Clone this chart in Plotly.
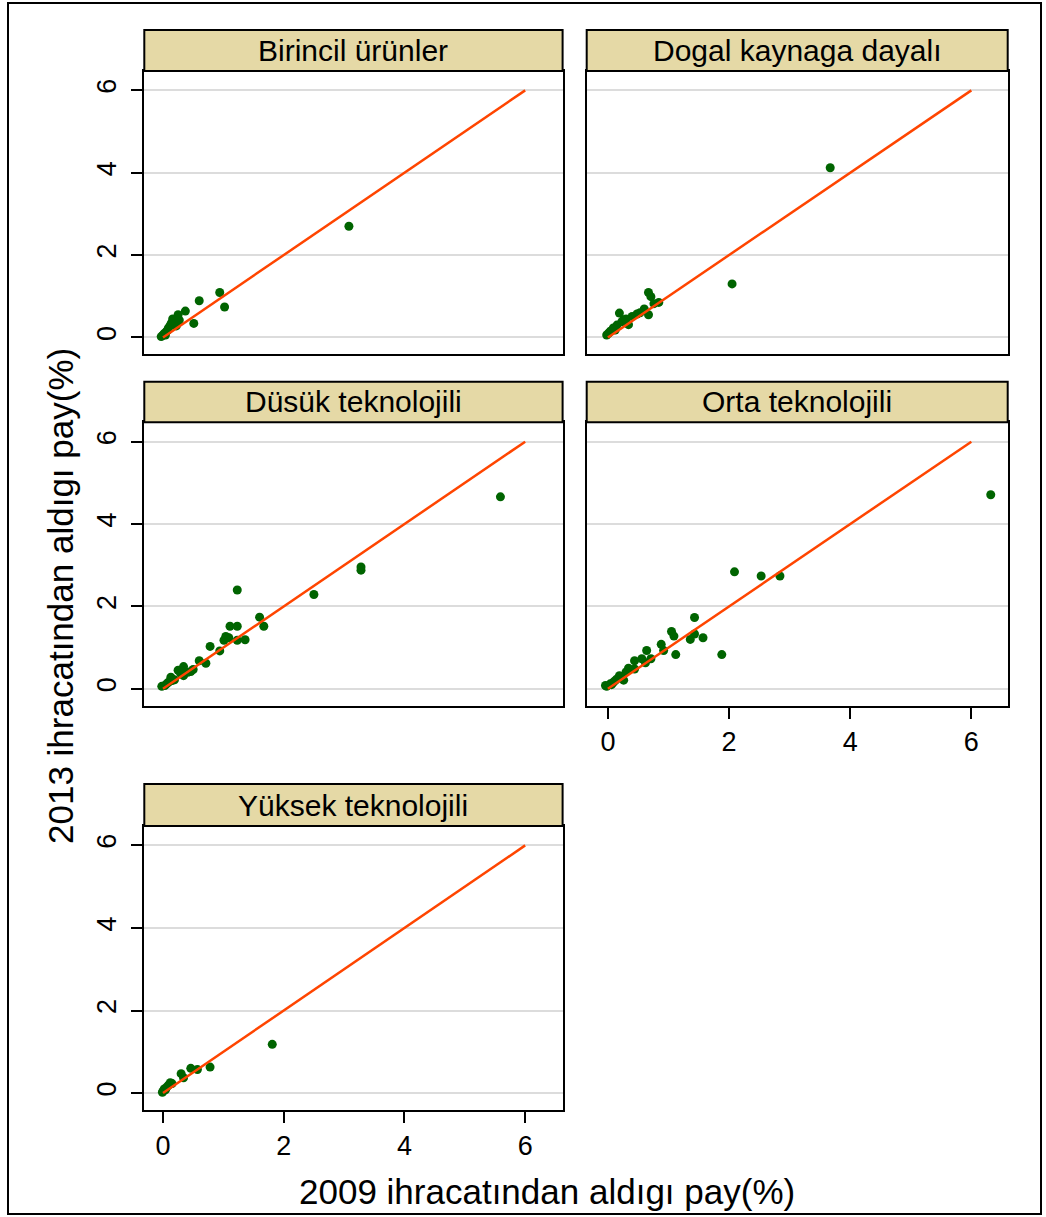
import plotly.graph_objects as go

# ---------------- data ----------------
panel_titles = ["Birincil ürünler", "Dogal kaynaga dayalı", "Düsük teknolojili",
                "Orta teknolojili", "Yüksek teknolojili"]

birincil_x = [3.08, 0.94, 0.60, 1.02, 0.51, 0.37, 0.25, 0.16, 0.14, 0.19, 0.09, 0.06, 0.03,
              0.00, -0.03, 0.12, 0.22, 0.08, 0.04, 0.01, 0.27]
birincil_y = [2.70, 1.09, 0.89, 0.74, 0.34, 0.64, 0.55, 0.45, 0.35, 0.39, 0.23, 0.15, 0.10,
              0.05, 0.02, 0.30, 0.28, 0.18, 0.06, 0.08, 0.42]

dogal_x = [3.67, 2.05, 0.67, 0.71, 0.84, 0.76, 0.67, 0.60, 0.48, 0.19, 0.34, 0.26, 0.40,
           0.09, 0.04, -0.02, 0.01, 0.15, 0.23, 0.53, 0.12, 0.30]
dogal_y = [4.12, 1.30, 1.09, 0.99, 0.85, 0.82, 0.55, 0.69, 0.57, 0.59, 0.31, 0.43, 0.51,
           0.23, 0.15, 0.06, 0.10, 0.30, 0.38, 0.60, 0.18, 0.45]

dusuk_x = [5.59, 3.28, 3.28, 2.50, 1.23, 1.60, 1.67, 1.11, 1.23, 1.36, 1.23, 1.04, 1.01,
           1.09, 0.78, 0.94, 0.60, 0.71, 0.46, 0.34, 0.25, 0.34, 0.13, 0.09, 0.03, -0.02,
           0.41, 0.29, 0.19, 0.15, 0.06, 0.50]
dusuk_y = [4.66, 2.96, 2.88, 2.29, 2.40, 1.74, 1.52, 1.52, 1.52, 1.19, 1.18, 1.27, 1.18,
           1.24, 1.03, 0.92, 0.68, 0.62, 0.42, 0.54, 0.45, 0.32, 0.28, 0.16, 0.08, 0.06,
           0.40, 0.38, 0.22, 0.20, 0.12, 0.47]

orta_x = [6.32, 2.09, 2.53, 2.84, 1.43, 1.05, 1.09, 1.43, 1.36, 1.57, 1.12, 1.88, 0.88,
          0.92, 0.64, 0.56, 0.62, 0.71, 0.44, 0.44, 0.34, 0.30, 0.26, 0.19, 0.15, 0.09,
          0.04, -0.02, -0.04, 0.22, 0.12, 0.06]
orta_y = [4.71, 2.84, 2.74, 2.74, 1.73, 1.39, 1.28, 1.33, 1.20, 1.24, 0.83, 0.83, 1.08,
          0.93, 0.93, 0.73, 0.63, 0.73, 0.68, 0.48, 0.50, 0.41, 0.21, 0.32, 0.24, 0.16,
          0.12, 0.06, 0.08, 0.28, 0.20, 0.10]

yuksek_x = [1.81, 0.78, 0.57, 0.46, 0.30, 0.34, 0.15, 0.09, 0.04, 0.00, -0.01, 0.02, 0.12, 0.06]
yuksek_y = [1.18, 0.63, 0.57, 0.60, 0.47, 0.37, 0.23, 0.19, 0.08, 0.04, 0.02, 0.10, 0.25, 0.14]

ref_x = [0, 6]
ref_y = [0, 6]

tick_vals = [0, 2, 4, 6]
tick_text = ["0", "2", "4", "6"]

x_title = "2009 ihracatından aldıgı pay(%)"
y_title = "2013 ihracatından aldıgı pay(%)"

# ---------------- layout geometry ----------------
W, H = 1046, 1217
FONT = "Liberation Sans, Arial, Helvetica, sans-serif"
MARKER = "#006400"
LINE = "#FF4500"
STRIP = "#E5D9A6"
GRID = "#DCDCDC"

def px(x):
    return x / W

def py(y):
    return 1 - y / H

cols = [(144.3, 562.6), (586.7, 1007.7)]
rows = [(71.0, 354.3), (422.3, 705.7), (826.0, 1110.0)]
strips = [(30.0, 71.0), (381.7, 422.3), (784.0, 826.0)]

# (row, col, xdata, ydata, show_x_labels, show_y_labels)
panels = [
    (0, 0, birincil_x, birincil_y, False, True),
    (0, 1, dogal_x, dogal_y, False, False),
    (1, 0, dusuk_x, dusuk_y, False, True),
    (1, 1, orta_x, orta_y, True, False),
    (2, 0, yuksek_x, yuksek_y, True, True),
]

xranges = [[-0.31, 6.62], [-0.35, 6.60]]
yrange = [-0.41, 6.47]

fig = go.Figure()
layout = dict(
    width=W, height=H,
    margin=dict(l=0, r=0, t=0, b=0),
    paper_bgcolor="white", plot_bgcolor="white",
    showlegend=False,
    font=dict(family=FONT, color="black"),
    shapes=[], annotations=[],
)

for i, (r, c, xs, ys, showx, showy) in enumerate(panels):
    n = "" if i == 0 else str(i + 1)
    xa, ya = "x" + n, "y" + n
    fig.add_trace(go.Scatter(x=xs, y=ys, mode="markers", xaxis=xa, yaxis=ya,
                             marker=dict(color=MARKER, size=9, line=dict(width=0)),
                             hoverinfo="skip"))
    fig.add_trace(go.Scatter(x=ref_x, y=ref_y, mode="lines", xaxis=xa, yaxis=ya,
                             line=dict(color=LINE, width=2.5), hoverinfo="skip"))
    x0, x1 = cols[c]
    y0, y1 = rows[r]
    layout["xaxis" + n] = dict(
        domain=[px(x0), px(x1)], anchor=ya, range=xranges[c],
        showgrid=False, zeroline=False,
        showline=True, mirror=True, linecolor="black", linewidth=2,
        tickvals=tick_vals, ticktext=tick_text,
        ticks="outside" if showx else "", ticklen=11, tickwidth=1.5, tickcolor="black",
        showticklabels=showx, tickfont=dict(size=27, family=FONT, color="black"),
    )
    layout["yaxis" + n] = dict(
        domain=[py(y1), py(y0)], anchor=xa, range=yrange,
        showgrid=True, gridcolor=GRID, gridwidth=2, zeroline=False,
        showline=True, mirror=True, linecolor="black", linewidth=2,
        tickvals=tick_vals, ticktext=tick_text,
        ticks="outside" if showy else "", ticklen=11, tickwidth=1.5, tickcolor="black",
        showticklabels=showy, tickangle=-90, ticklabelstandoff=5,
        tickfont=dict(size=27, family=FONT, color="black"),
    )
    s0, s1 = strips[r]
    layout["shapes"].append(dict(
        type="rect", xref="paper", yref="paper",
        x0=px(x0), x1=px(x1), y0=py(s1), y1=py(s0),
        fillcolor=STRIP, line=dict(color="black", width=2), layer="above"))
    layout["annotations"].append(dict(
        text=panel_titles[i], xref="paper", yref="paper",
        x=px((x0 + x1) / 2), y=py((s0 + s1) / 2), xanchor="center", yanchor="middle",
        showarrow=False, font=dict(size=30, family=FONT, color="black")))

# outer border
layout["shapes"].append(dict(
    type="rect", xref="paper", yref="paper",
    x0=px(8), x1=px(1041), y0=py(1214), y1=py(3),
    line=dict(color="black", width=2), fillcolor="rgba(0,0,0,0)"))

# axis titles
layout["annotations"].append(dict(
    text=x_title, xref="paper", yref="paper", x=px(547), y=py(1191),
    xanchor="center", yanchor="middle", showarrow=False,
    font=dict(size=35, family=FONT, color="black")))
layout["annotations"].append(dict(
    text=y_title, xref="paper", yref="paper", x=px(60), y=py(596),
    xanchor="center", yanchor="middle", textangle=-90, showarrow=False,
    font=dict(size=35, family=FONT, color="black")))

fig.update_layout(**layout)
fig.write_html("out.html")
